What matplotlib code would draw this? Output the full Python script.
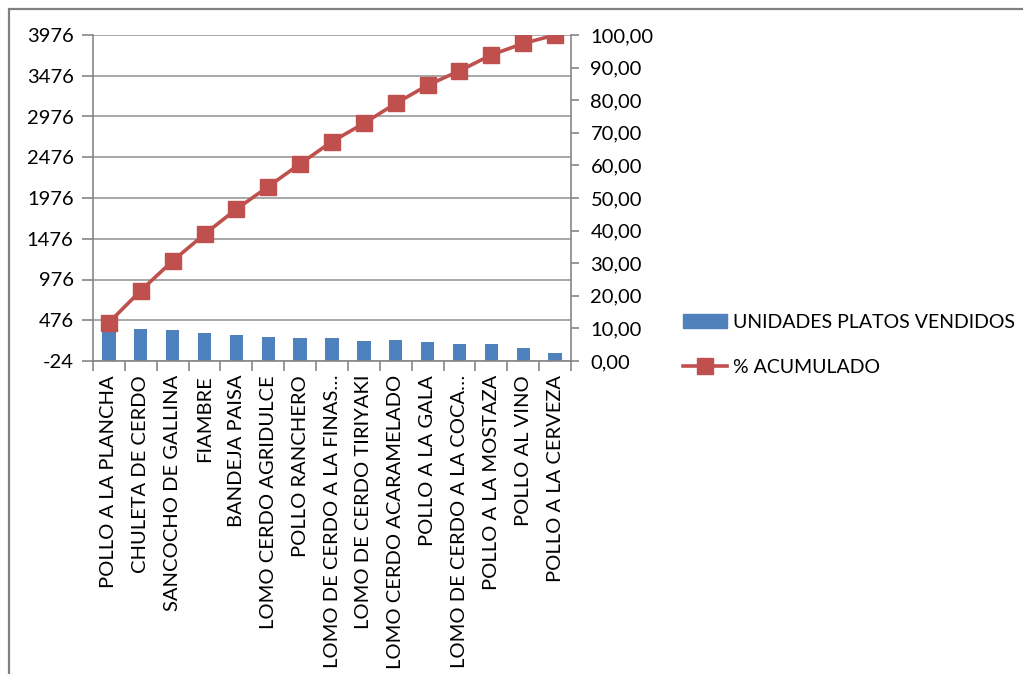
import matplotlib
matplotlib.use("Agg")
import matplotlib.pyplot as plt
from matplotlib.patches import Rectangle
from matplotlib.lines import Line2D
from matplotlib.ticker import FuncFormatter, FixedLocator

categories = ["POLLO A LA PLANCHA", "CHULETA DE CERDO", "SANCOCHO DE GALLINA",
              "FIAMBRE", "BANDEJA PAISA", "LOMO CERDO AGRIDULCE", "POLLO RANCHERO",
              "LOMO DE CERDO A LA FINAS…", "LOMO DE CERDO TIRIYAKI",
              "LOMO CERDO ACARAMELADO", "POLLO A LA GALA", "LOMO DE CERDO A LA COCA…",
              "POLLO A LA MOSTAZA", "POLLO AL VINO", "POLLO A LA CERVEZA"]
unidades = [444, 372, 355, 314, 301, 276, 264, 264, 218, 230, 205, 180, 180, 134, 80]
acumulado = [11.8, 21.6, 30.7, 38.9, 46.6, 53.5, 60.5, 67.3, 72.9, 79.0, 84.6, 89.0, 93.9, 97.4, 100.0]
left_ticks = [-24, 476, 976, 1476, 1976, 2476, 2976, 3476, 3976]
right_ticks = [0, 10, 20, 30, 40, 50, 60, 70, 80, 90, 100]

plt.rcParams['font.family'] = ['Lato', 'DejaVu Sans']
BLUE = "#4F81BD"
RED = "#C0504D"
AXC = "#868686"
GRID = "#9A9A9A"
FS = 14.5

W, H = 1023, 674
fig = plt.figure(figsize=(W/100, H/100), dpi=100)
fig.patches.append(Rectangle((8.5/W, -0.1), 1.2, 1 - 9/H + 0.1, transform=fig.transFigure,
                             fill=False, edgecolor="#808080", linewidth=1.6))

l, r, t, b = 93/W, 571/W, 1 - 35/H, 1 - 361/H
ax = fig.add_axes([l, b, r - l, t - b])
x = list(range(len(categories)))
bars = ax.bar(x, unidades, width=0.42, color=BLUE, zorder=2)
ax.set_xlim(-0.5, len(categories) - 0.5)
ax.set_ylim(left_ticks[0], left_ticks[-1])
ax.set_yticks(left_ticks)
ax.set_yticklabels([str(v) for v in left_ticks], fontsize=FS)
ax.yaxis.grid(True, color=GRID, linewidth=1.2, zorder=0)
ax.set_axisbelow(True)
ax.set_xticks(x)
ax.set_xticklabels(categories, rotation=90, fontsize=FS, ha='center', va='top')
ax.xaxis.set_minor_locator(FixedLocator([i - 0.5 for i in range(len(categories) + 1)]))
ax.tick_params(axis='x', which='major', length=0, pad=10)
ax.tick_params(axis='x', which='minor', length=7, color=AXC, width=1.2)
ax.tick_params(axis='y', length=8, color=AXC, width=1.2, pad=6)
for s in ['top', 'right']:
    ax.spines[s].set_visible(False)
for s in ['left', 'bottom']:
    ax.spines[s].set_color(AXC)
    ax.spines[s].set_linewidth(1.2)

# bars start from axis minimum like Excel
for rect, v in zip(bars, unidades):
    rect.set_y(left_ticks[0])
    rect.set_height(v - left_ticks[0])

ax2 = ax.twinx()
ax2.plot(x, acumulado, color=RED, linewidth=2.6, marker='s', markersize=12,
         markerfacecolor=RED, markeredgecolor=RED, zorder=3)
ax2.set_ylim(0, 100)
ax2.set_yticks(right_ticks)
ax2.yaxis.set_major_formatter(FuncFormatter(lambda v, p: f"{v:.2f}".replace('.', ',')))
ax2.tick_params(axis='y', length=6, color=AXC, width=1.2, labelsize=FS, pad=8)
for s in ['top', 'left', 'bottom']:
    ax2.spines[s].set_visible(False)
ax2.spines['right'].set_color(AXC)
ax2.spines['right'].set_linewidth(1.2)

handles = [Rectangle((0, 0), 1, 1, color=BLUE),
           Line2D([0], [0], color=RED, linewidth=2.6, marker='s', markersize=12)]
fig.legend(handles, ["UNIDADES PLATOS VENDIDOS", "% ACUMULADO"],
           loc='upper left', bbox_to_anchor=(683/W, 1 - 314/H), frameon=False,
           fontsize=14, handlelength=2.25, handletextpad=0.3, labelspacing=1.45,
           borderaxespad=0, borderpad=0)

fig.savefig("out.png", dpi=100)
